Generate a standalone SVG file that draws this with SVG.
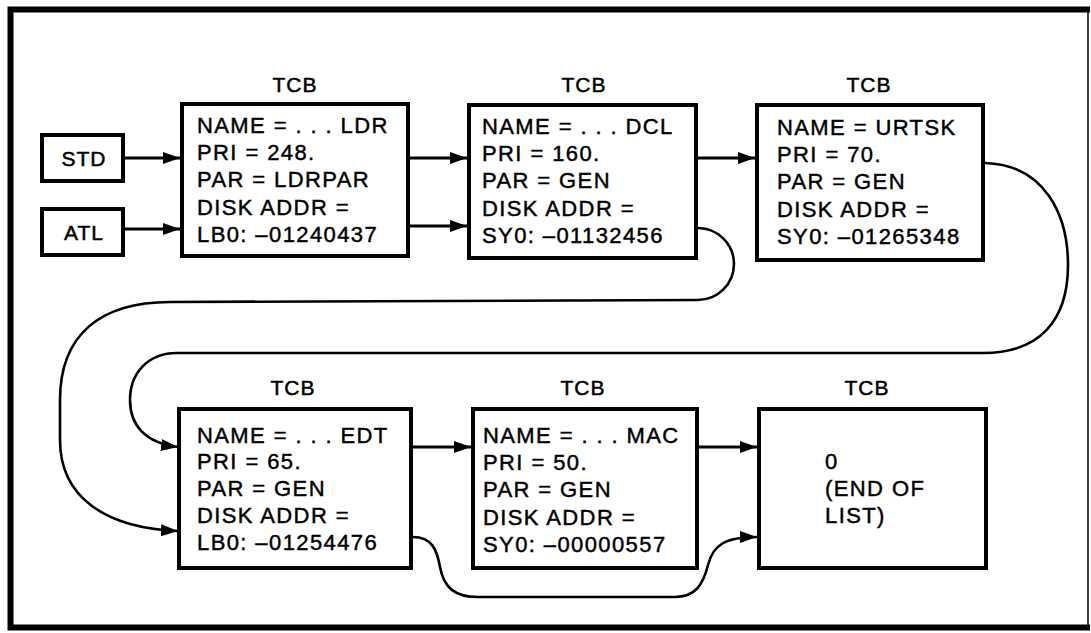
<svg xmlns="http://www.w3.org/2000/svg" width="1091" height="633" viewBox="0 0 1091 633">
<style>
.box{fill:#fff;stroke:#000;stroke-width:4}
.t{font-family:"Liberation Sans",Arial,sans-serif;font-size:22px;letter-spacing:1.4px;fill:#000;stroke:#000;stroke-width:0.45px}
.lbl{font-family:"Liberation Sans",Arial,sans-serif;font-size:21px;letter-spacing:1px;fill:#000;stroke:#000;stroke-width:0.5px;text-anchor:middle}
.ln{fill:none;stroke:#000;stroke-width:3}
.cv{fill:none;stroke:#000;stroke-width:2.6}
.frame{fill:none;stroke:#000;stroke-width:6}
</style>
<defs>
<marker id="ah" markerUnits="userSpaceOnUse" markerWidth="18" markerHeight="12" refX="17" refY="6" orient="auto"><path d="M0,0 L17,6 L0,12 z" fill="#000"/></marker>
</defs>
<rect width="1091" height="633" fill="#fff"/>
<g id="frame">
<path class="frame" d="M1090 9.5 H10.5 V627.5 H1090"/>
<path d="M1088 9 V627" fill="none" stroke="#000" stroke-width="1.5"/>
</g>
<g id="connectors">
<path class="ln" d="M125 158 H180" marker-end="url(#ah)"/>
<path class="ln" d="M125 229 H180" marker-end="url(#ah)"/>
<path class="ln" d="M410 158 H467" marker-end="url(#ah)"/>
<path class="ln" d="M410 226 H467" marker-end="url(#ah)"/>
<path class="ln" d="M698 158 H755" marker-end="url(#ah)"/>
<path class="ln" d="M413 447 H471" marker-end="url(#ah)"/>
<path class="ln" d="M699 447 H757" marker-end="url(#ah)"/>
<path class="cv" d="M698 228 A36 36 0 0 1 698 300 L170 302 C100 302 60 335 60 400 L60 440 C60 497 105 528 178 531" marker-end="url(#ah)"/>
<path class="cv" d="M985 163 C1045 165 1068 215 1068 265 C1068 320 1040 353 983 353 L177 353 C148 353 130 373 130 400 C130 425 145 443 178 447" marker-end="url(#ah)"/>
<path class="cv" d="M413 537 C432 537 437 550 440 567 C444 588 455 597 478 597 L675 597 C695 597 703 585 708 565 C713 545 725 537 757 537" marker-end="url(#ah)"/>
</g>
<g id="std">
<rect class="box" x="42" y="135" width="81" height="46"/>
<text class="lbl" x="84" y="166">STD</text>
</g>
<g id="atl">
<rect class="box" x="42" y="209" width="81" height="46"/>
<text class="lbl" x="84" y="240">ATL</text>
</g>
<g id="tcb-ldr">
<text class="lbl" x="295" y="92">TCB</text>
<rect class="box" x="182" y="104" width="226" height="152"/>
<text class="t"><tspan x="197" y="133">NAME = . . . LDR</tspan><tspan x="197" y="160">PRI = 248.</tspan><tspan x="197" y="187">PAR = LDRPAR</tspan><tspan x="197" y="214.5">DISK ADDR =</tspan><tspan x="197" y="242">LB0: –01240437</tspan></text>
</g>
<g id="tcb-dcl">
<text class="lbl" x="584" y="92">TCB</text>
<rect class="box" x="469" y="105" width="227" height="153"/>
<text class="t"><tspan x="482" y="134">NAME = . . . DCL</tspan><tspan x="482" y="161">PRI = 160.</tspan><tspan x="482" y="188">PAR = GEN</tspan><tspan x="482" y="215.5">DISK ADDR =</tspan><tspan x="482" y="243">SY0: –01132456</tspan></text>
</g>
<g id="tcb-urtsk">
<text class="lbl" x="869" y="92">TCB</text>
<rect class="box" x="757" y="105" width="226" height="155"/>
<text class="t"><tspan x="777" y="135">NAME = URTSK</tspan><tspan x="777" y="162">PRI = 70.</tspan><tspan x="777" y="189">PAR = GEN</tspan><tspan x="777" y="216.5">DISK ADDR =</tspan><tspan x="777" y="244">SY0: –01265348</tspan></text>
</g>
<g id="tcb-edt">
<text class="lbl" x="293" y="395">TCB</text>
<rect class="box" x="179" y="409" width="232" height="159"/>
<text class="t"><tspan x="197" y="443">NAME = . . . EDT</tspan><tspan x="197" y="469">PRI = 65.</tspan><tspan x="197" y="496">PAR = GEN</tspan><tspan x="197" y="523">DISK ADDR =</tspan><tspan x="197" y="550">LB0: –01254476</tspan></text>
</g>
<g id="tcb-mac">
<text class="lbl" x="583" y="395">TCB</text>
<rect class="box" x="473" y="409" width="224" height="159"/>
<text class="t"><tspan x="483" y="443">NAME = . . . MAC</tspan><tspan x="483" y="470">PRI = 50.</tspan><tspan x="483" y="497">PAR = GEN</tspan><tspan x="483" y="525">DISK ADDR =</tspan><tspan x="483" y="552">SY0: –00000557</tspan></text>
</g>
<g id="tcb-end">
<text class="lbl" x="867" y="395">TCB</text>
<rect class="box" x="759" y="409" width="227" height="159"/>
<text class="t"><tspan x="825" y="469">0</tspan><tspan x="825" y="496">(END OF</tspan><tspan x="825" y="523">LIST)</tspan></text>
</g>
</svg>
